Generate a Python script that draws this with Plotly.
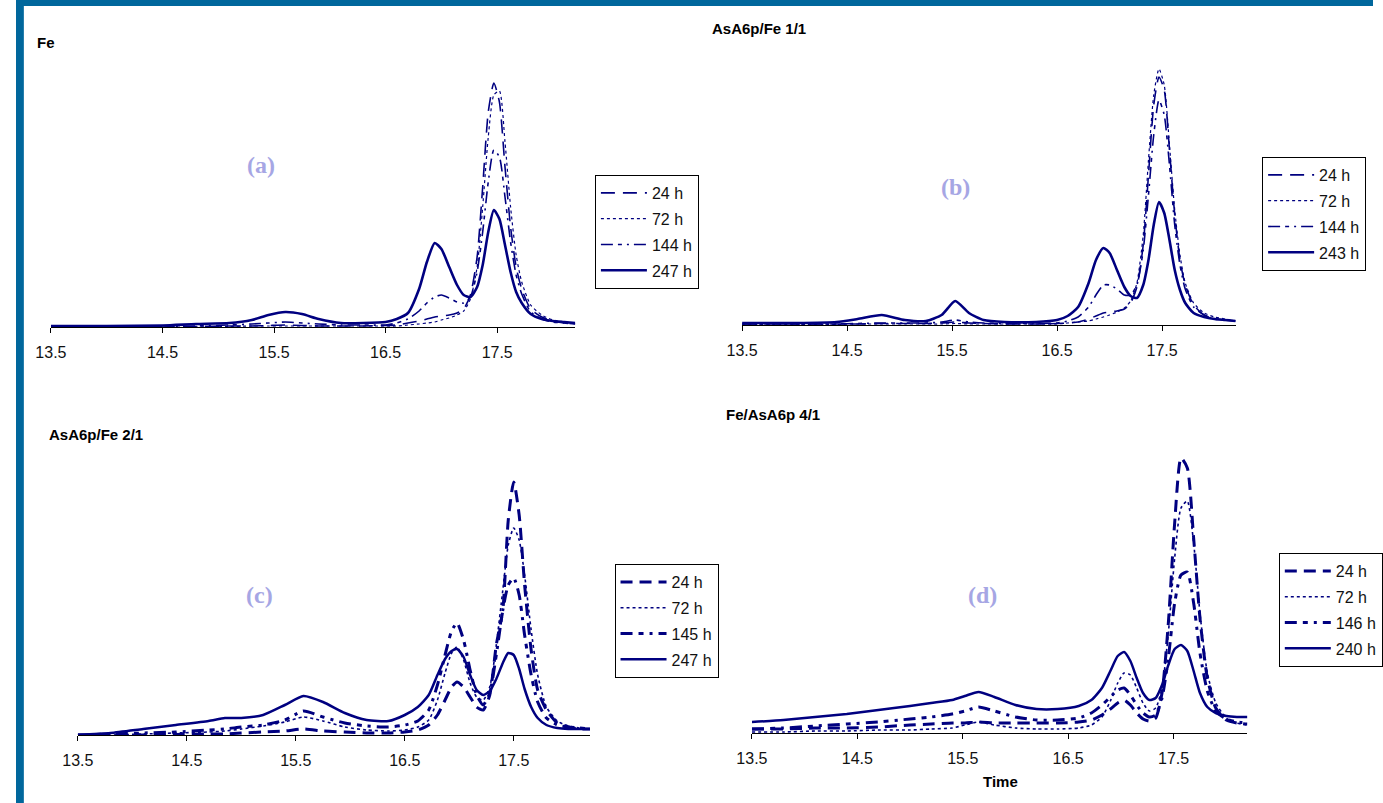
import plotly.graph_objects as go

W, H = 1383, 803
NAVY = "#000080"

# ---------------- data (heights in arbitrary detector units) ----------
XA = [13.5, 14.0, 14.5, 14.8, 15.1, 15.3, 15.45, 15.6, 15.75, 15.9, 16.1, 16.3, 16.5, 16.6, 16.7,
      16.8, 16.87, 16.94, 17.0, 17.07, 17.14, 17.2, 17.26, 17.32, 17.37, 17.42, 17.47, 17.52, 17.57,
      17.62, 17.67, 17.72, 17.8, 17.9, 18.0, 18.1, 18.2]
A_24 = [0, 0, 0, 0.5, 1, 1, 1.5, 2, 1.5, 1, 1, 1, 1.5, 2, 4, 6, 8, 10, 11, 12, 14, 18, 32, 70, 140,
        215, 244, 225, 160, 100, 60, 38, 18, 10, 6, 4, 3]
A_72 = [0, 0, 0, 0, 0.5, 1, 1, 1, 1, 1, 1, 1, 1, 1, 2, 3, 4, 5, 7, 9, 12, 16, 28, 60, 120, 190, 232,
        236, 185, 120, 72, 45, 22, 12, 7, 5, 3]
A_144 = [0, 0, 0.5, 1, 2, 3, 4, 5, 4, 3, 2, 2, 2, 4, 8, 16, 24, 30, 32, 29, 25, 24, 30, 55, 95, 145,
         177, 170, 130, 85, 52, 33, 15, 8, 5, 4, 3]
A_247 = [1, 1, 1.5, 3, 4, 7, 12, 15, 13, 8, 4, 4, 5, 8, 14, 38, 65, 84, 78, 60, 42, 32, 30, 40, 62,
         95, 117, 108, 82, 55, 35, 24, 13, 8, 6, 5, 4]

XB = [13.5, 14.0, 14.4, 14.6, 14.83, 15.05, 15.25, 15.4, 15.53, 15.66, 15.8, 16.0, 16.3, 16.5, 16.6,
      16.7, 16.8, 16.87, 16.94, 17.0, 17.07, 17.14, 17.2, 17.26, 17.32, 17.37, 17.42, 17.47, 17.52,
      17.57, 17.62, 17.67, 17.72, 17.8, 17.9, 18.0, 18.1, 18.2]
B_24 = [1, 1, 1, 1, 1.5, 1.5, 1.5, 2, 3, 2, 1.5, 1, 1, 1.5, 2, 3, 6, 9, 12, 13, 14, 16, 22, 38, 80,
        150, 220, 248, 235, 175, 110, 65, 40, 20, 10, 6, 5, 4]
B_72 = [0.5, 0.5, 0.5, 1, 1, 1, 1, 1, 1.5, 1, 1, 1, 1, 1, 2, 3, 4, 6, 8, 10, 13, 17, 24, 42, 90, 165,
        230, 256, 240, 180, 115, 70, 42, 22, 12, 8, 6, 4]
B_144 = [1, 1, 1, 1.5, 2, 2, 2, 3, 5, 3, 2, 1.5, 1.5, 2, 4, 8, 18, 30, 40, 40, 36, 30, 30, 40, 75,
         130, 190, 225, 210, 160, 100, 60, 36, 18, 10, 6, 5, 4]
B_243 = [2, 2, 3, 6, 10, 5, 4, 10, 24, 12, 5, 3, 3, 5, 9, 18, 42, 65, 77, 72, 55, 38, 29, 27, 40, 65,
         100, 123, 112, 85, 55, 35, 22, 12, 8, 6, 5, 4]

XC = [13.5, 13.8, 14.1, 14.4, 14.7, 14.85, 15.0, 15.2, 15.4, 15.57, 15.75, 15.95, 16.15, 16.35, 16.5,
      16.62, 16.72, 16.8, 16.87, 16.93, 16.98, 17.04, 17.1, 17.16, 17.22, 17.28, 17.34, 17.4, 17.45,
      17.5, 17.55, 17.6, 17.66, 17.72, 17.8, 17.9, 18.0, 18.1, 18.2]
C_24 = [0, 0, 0, 0.5, 1, 1, 2, 3, 4, 6, 4, 3, 2, 2, 3, 5, 10, 20, 35, 48, 53, 48, 38, 28, 25, 40, 90,
        125, 215, 253, 220, 150, 85, 45, 25, 12, 8, 6, 6]
C_72 = [0, 0, 1, 2, 3, 4, 6, 9, 13, 18, 14, 8, 5, 4, 5, 8, 15, 35, 62, 82, 88, 75, 52, 38, 35, 48, 90,
        145, 190, 207, 195, 160, 105, 60, 28, 14, 9, 7, 6]
C_145 = [0, 1, 2, 3, 5, 6, 8, 10, 15, 24, 18, 12, 9, 8, 10, 14, 25, 50, 80, 104, 112, 95, 65, 40, 30,
         42, 80, 125, 150, 157, 140, 100, 60, 33, 17, 10, 8, 7, 6]
C_247 = [0, 2, 6, 10, 14, 17, 17, 20, 30, 39, 33, 22, 15, 14, 20, 28, 40, 60, 76, 84, 86, 78, 60, 45,
         40, 44, 56, 72, 82, 80, 66, 46, 28, 17, 10, 7, 6, 6, 6]

XD = [13.5, 13.8, 14.1, 14.4, 14.7, 15.0, 15.2, 15.4, 15.52, 15.65, 15.8, 16.0, 16.2, 16.4, 16.6,
      16.72, 16.82, 16.9, 16.97, 17.03, 17.09, 17.15, 17.21, 17.27, 17.33, 17.39, 17.45, 17.51, 17.57,
      17.63, 17.69, 17.75, 17.82, 17.9, 18.0, 18.1, 18.2]
D_24 = [4, 4, 5, 5, 6, 8, 9, 10, 10, 11, 10, 10, 10, 10, 11, 13, 18, 24, 30, 33, 28, 20, 14, 12, 15,
        40, 110, 210, 275, 265, 195, 115, 55, 25, 13, 10, 9]
D_72 = [1, 1, 2, 2, 3, 3, 4, 5, 8, 11, 8, 5, 4, 4, 5, 8, 16, 32, 50, 60, 58, 45, 30, 22, 25, 45, 100,
        175, 225, 232, 190, 120, 60, 30, 15, 10, 8]
D_146 = [4, 5, 7, 9, 11, 14, 16, 19, 22, 26, 22, 16, 13, 13, 15, 20, 28, 36, 43, 45, 38, 28, 20, 16,
         18, 35, 75, 130, 158, 161, 130, 80, 42, 22, 14, 11, 10]
D_240 = [11, 13, 16, 19, 23, 27, 30, 33, 37, 41, 36, 28, 24, 24, 27, 33, 45, 62, 77, 81, 72, 55, 40,
         33, 35, 48, 68, 84, 88, 82, 62, 40, 26, 20, 17, 16, 16]

TICKS = [13.5, 14.5, 15.5, 16.5, 17.5]
TICK_TEXT = ["13.5", "14.5", "15.5", "16.5", "17.5"]

PANELS = [
    dict(x=XA, series=[("24 h", A_24), ("72 h", A_72), ("144 h", A_144), ("247 h", A_247)],
         title="Fe", label="(a)", heavy=False),
    dict(x=XB, series=[("24 h", B_24), ("72 h", B_72), ("144 h", B_144), ("243 h", B_243)],
         title="AsA6p/Fe 1/1", label="(b)", heavy=False),
    dict(x=XC, series=[("24 h", C_24), ("72 h", C_72), ("145 h", C_145), ("247 h", C_247)],
         title="AsA6p/Fe 2/1", label="(c)", heavy=True),
    dict(x=XD, series=[("24 h", D_24), ("72 h", D_72), ("146 h", D_146), ("240 h", D_240)],
         title="Fe/AsA6p 4/1", label="(d)", heavy=True),
]

# ---------------- layout geometry (pixels) ----------------
GEOM = [
    dict(x0=35.6, x1=570, base=327, top=70, ymax=257),
    dict(x0=740, x1=1243, base=325, top=55, ymax=270),
    dict(x0=63, x1=585, base=735, top=460, ymax=275),
    dict(x0=750, x1=1255, base=733, top=443, ymax=290),
]
LEGEND_POS = [(590, 175), (1270, 157), (610, 564), (1287, 553)]
TITLE_POS = [(19, 43, "left"), (757, 28, "center"), (32, 435, "left"), (722, 415, "left")]
LABEL_POS = [(250, 165), (958, 187), (248, 595), (985, 595)]


def px(x):
    return x / W


def py(y):
    return 1 - y / H


def styles(heavy):
    if heavy:
        return [dict(dash="12px,7px", width=3),
                dict(dash="dot", width=1.6),
                dict(dash="12px,6px,5px,6px,3px,6px", width=3),
                dict(dash="solid", width=2.5)]
    return [dict(dash="14px,8px", width=1.6),
            dict(dash="dot", width=1.2),
            dict(dash="12px,5px,4px,5px,2px,5px", width=1.6),
            dict(dash="solid", width=2.6)]


fig = go.Figure()
layout = dict(
    width=W, height=H, margin=dict(l=0, r=0, t=0, b=0),
    paper_bgcolor="white", plot_bgcolor="rgba(0,0,0,0)",
    font=dict(family="Liberation Sans, Arial, sans-serif", color="#111111"),
    showlegend=True,
)
annotations = []

for i, (p, g) in enumerate(zip(PANELS, GEOM)):
    n = i + 1
    xa = "x" if n == 1 else f"x{n}"
    ya = "y" if n == 1 else f"y{n}"
    leg = "legend" if n == 1 else f"legend{n}"
    for (name, vals), st in zip(p["series"], styles(p["heavy"])):
        fig.add_trace(go.Scatter(
            x=p["x"], y=vals, mode="lines", name=name, xaxis=xa, yaxis=ya,
            line=dict(color=NAVY, width=st["width"], dash=st["dash"], shape="spline", smoothing=0.6),
            legend=leg, legendgroup=f"{n}-{name}", hoverinfo="x+y",
        ))
    layout["xaxis" if n == 1 else f"xaxis{n}"] = dict(
        domain=[px(g["x0"]), px(g["x1"])], range=[13.5, 18.2], anchor=ya,
        showline=True, linecolor="black", linewidth=1, showgrid=False, zeroline=False,
        ticks="outside", ticklen=5, tickcolor="black", tickwidth=1,
        tickvals=TICKS, ticktext=TICK_TEXT, ticklabelstandoff=6,
        tickfont=dict(size=16, color="#111111"),
    )
    layout["yaxis" if n == 1 else f"yaxis{n}"] = dict(
        domain=[py(g["base"]), py(g["top"])], range=[0, g["ymax"]], anchor=xa,
        visible=False, showgrid=False, zeroline=False,
    )
    lx, ly = LEGEND_POS[i]
    layout[leg] = dict(
        x=px(lx), y=py(ly), xanchor="left", yanchor="top", xref="paper", yref="paper",
        bgcolor="white", bordercolor="black", borderwidth=1,
        font=dict(size=16, color="#111111"), tracegroupgap=2, itemwidth=46,
    )
    tx, ty, tal = TITLE_POS[i]
    annotations.append(dict(
        x=px(tx), y=py(ty), xref="paper", yref="paper", text=f"<b>{p['title']}</b>",
        showarrow=False, xanchor=tal, yanchor="middle",
        font=dict(size=15, color="black", family="Liberation Sans, Arial, sans-serif"),
    ))
    lbx, lby = LABEL_POS[i]
    annotations.append(dict(
        x=px(lbx), y=py(lby), xref="paper", yref="paper", text=f"<b>{p['label']}</b>",
        showarrow=False, xanchor="center", yanchor="middle",
        font=dict(size=24, color="#a6a6e4", family="Liberation Serif, Times New Roman, serif"),
    ))

annotations.append(dict(
    x=px(1003), y=py(781), xref="paper", yref="paper", text="<b>Time</b>",
    showarrow=False, xanchor="center", yanchor="middle",
    font=dict(size=15, color="black", family="Liberation Sans, Arial, sans-serif"),
))

layout["annotations"] = annotations
layout["shapes"] = [
    dict(type="rect", xref="paper", yref="paper", x0=0, x1=px(8), y0=0, y1=1,
         fillcolor="#00679c", line=dict(width=0), layer="above"),
    dict(type="rect", xref="paper", yref="paper", x0=0, x1=1, y0=py(6), y1=1,
         fillcolor="#00679c", line=dict(width=0), layer="above"),
]
fig.update_layout(**layout)
fig.write_html(
    "out.html",
    config={"displayModeBar": False},
    post_script="document.body.style.margin='0';document.body.style.overflow='hidden';",
)
